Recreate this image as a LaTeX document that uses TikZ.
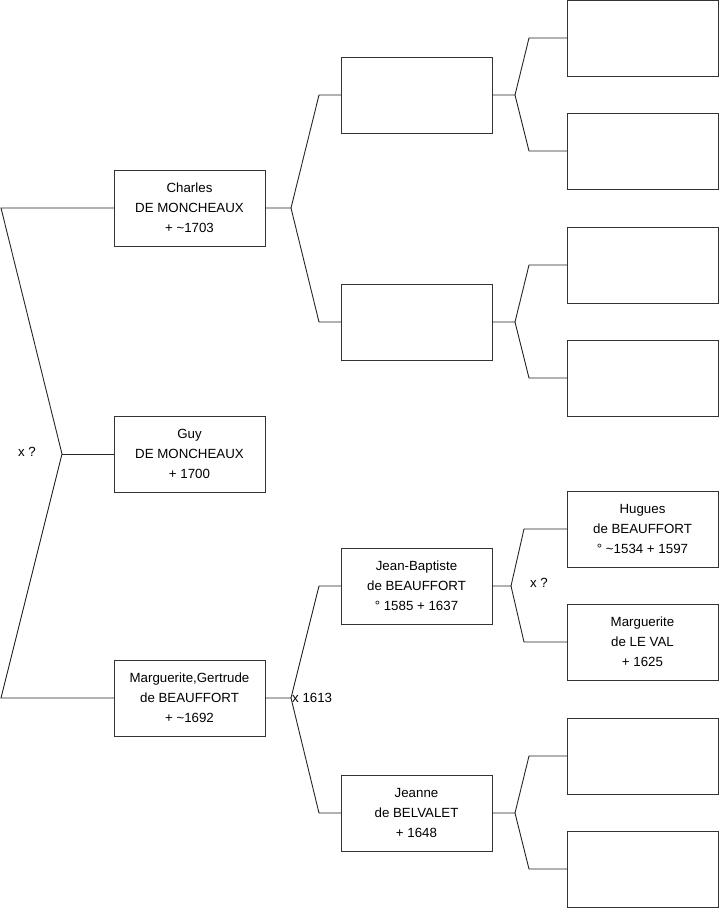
\documentclass[tikz,border=0pt]{standalone}
\usepackage{fontspec}
\setmainfont{Liberation Sans}
\usetikzlibrary{positioning}

\begin{document}
\begin{tikzpicture}[x=1pt, y=-1pt, font=\fontsize{13.3}{20}\selectfont,
    box/.style={draw=black!80, line width=0.9pt, minimum width=151pt, minimum height=76pt, inner sep=0pt, outer sep=0pt, align=center},
    link/.style={draw=black!85, line width=0.9pt}]
            \useasboundingbox (0,0) rectangle (719,908);

            % Generation 1
            \node[box] (guy) at (189.5,454) {Guy\\DE MONCHEAUX\\+ 1700};
            \node[box, above=170pt of guy] (charles) {Charles\\DE MONCHEAUX\\+ \textasciitilde1703};
            \node[box, below=168pt of guy] (marguerite) {Marguerite,Gertrude\\de BEAUFFORT\\+ \textasciitilde1692};

            % Generation 2
            \node[box, right=76pt of charles, yshift=113pt] (pere) {};
            \node[box, right=76pt of charles, yshift=-114pt] (mere) {};
            \node[box, right=76pt of marguerite, yshift=112pt] (jeanbaptiste) {Jean-Baptiste\\de BEAUFFORT\\\textdegree{} 1585 + 1637};
            \node[box, right=76pt of marguerite, yshift=-115pt] (jeanne) {Jeanne\\de BELVALET\\+ 1648};

            % Generation 3
            \node[box, right=75pt of pere, yshift=57pt] (ggpere1) {};
            \node[box, right=75pt of pere, yshift=-56pt] (ggmere1) {};
            \node[box, right=75pt of mere, yshift=57pt] (ggpere2) {};
            \node[box, right=75pt of mere, yshift=-56pt] (ggmere2) {};
            \node[box, right=75pt of jeanbaptiste, yshift=57pt] (hugues) {Hugues\\de BEAUFFORT\\\textdegree{} \textasciitilde1534 + 1597};
            \node[box, right=75pt of jeanbaptiste, yshift=-56pt] (margval) {Marguerite\\de LE VAL\\+ 1625};
            \node[box, right=75pt of jeanne, yshift=57pt] (ggpere4) {};
            \node[box, right=75pt of jeanne, yshift=-56pt] (ggmere4) {};

            % Junctions
            \coordinate (root) at (62,454);
            \coordinate (roottop) at (1,208);
            \coordinate (rootbot) at (1,698);
            \coordinate (jcharles) at ([xshift=26pt]charles.east);
            \coordinate (jmarg) at ([xshift=26pt]marguerite.east);
            \coordinate (jpere) at ([xshift=23pt]pere.east);
            \coordinate (jmere) at ([xshift=23pt]mere.east);
            \coordinate (jjb) at ([xshift=19pt]jeanbaptiste.east);
            \coordinate (jjeanne) at ([xshift=23pt]jeanne.east);

            % Connections
            \draw[link] (charles.west) -- (roottop) -- (root) -- (rootbot) -- (marguerite.west);
            \draw[link] (root) -- (guy.west);
            \draw[link] (charles.east) -- (jcharles) -- ([xshift=-22pt]pere.west) -- (pere.west);
            \draw[link] (jcharles) -- ([xshift=-22pt]mere.west) -- (mere.west);
            \draw[link] (marguerite.east) -- (jmarg) -- ([xshift=-22pt]jeanbaptiste.west) -- (jeanbaptiste.west);
            \draw[link] (jmarg) -- ([xshift=-22pt]jeanne.west) -- (jeanne.west);
            \draw[link] (pere.east) -- (jpere) -- ([xshift=-38pt]ggpere1.west) -- (ggpere1.west);
            \draw[link] (jpere) -- ([xshift=-38pt]ggmere1.west) -- (ggmere1.west);
            \draw[link] (mere.east) -- (jmere) -- ([xshift=-38pt]ggpere2.west) -- (ggpere2.west);
            \draw[link] (jmere) -- ([xshift=-38pt]ggmere2.west) -- (ggmere2.west);
            \draw[link] (jeanbaptiste.east) -- (jjb) -- ([xshift=-43pt]hugues.west) -- (hugues.west);
            \draw[link] (jjb) -- ([xshift=-43pt]margval.west) -- (margval.west);
            \draw[link] (jeanne.east) -- (jjeanne) -- ([xshift=-38pt]ggpere4.west) -- (ggpere4.west);
            \draw[link] (jjeanne) -- ([xshift=-38pt]ggmere4.west) -- (ggmere4.west);

            % Marriages
            \node (xroot) at (27,452) {x ?};
            \node[anchor=west, inner sep=0pt] (x1613) at ([xshift=1pt]jmarg) {x 1613};
            \node (xjb) at (539,583) {x ?};
        \end{tikzpicture}
\end{document}
